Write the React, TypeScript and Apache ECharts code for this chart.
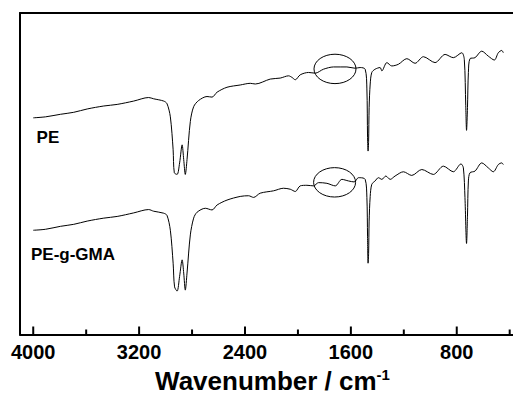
import React, { useEffect, useRef } from "react";
import * as echarts from "echarts";

// Wavenumbers (cm-1) and relative transmittance (arbitrary units)
const peWavenumbers = [
  4000, 3907, 3794, 3694, 3592, 3467, 3366, 3241, 3128, 3090, 3014, 2989, 2964, 2943, 2934, 2913,
  2894, 2875, 2863, 2851, 2838, 2813, 2788, 2750, 2687, 2649, 2611, 2536, 2436, 2360, 2322, 2209,
  2134, 2071, 2045, 2020, 1983, 1920, 1869, 1807, 1731, 1630, 1568, 1530, 1492, 1479, 1474, 1470,
  1466, 1462, 1454, 1442, 1417, 1379, 1366, 1328, 1291, 1241, 1177, 1115, 1052, 964, 888, 826,
  762, 743, 732, 726, 719, 712, 700, 662, 611, 562, 516, 486, 460, 448,
];
const peValues = [
  219.7, 220.7, 223.3, 225.3, 228.7, 231.7, 233.3, 236.7, 240.3, 239, 236.7, 234, 220.7, 187.3, 164, 162.3,
  174, 192.3, 177.3, 162.3, 177.3, 216, 231, 237.3, 241.3, 240.7, 245.7, 250.7, 253, 254.7, 254, 259,
  260, 262.3, 260.7, 258.3, 263.3, 265.7, 265, 269, 271.3, 271.3, 270, 270.7, 269, 249, 200, 186,
  196, 230, 254, 265.7, 269, 270.7, 267.3, 275.7, 272.3, 274, 279.7, 275, 281.7, 275.7, 284, 280.7,
  285.7, 279, 232, 207, 230, 265.7, 279.7, 280.7, 287.3, 282.3, 278.3, 285.7, 288, 285.7,
];

const gmaWavenumbers = [
  4000, 3907, 3794, 3694, 3592, 3467, 3366, 3241, 3128, 3090, 3014, 2989, 2964, 2943, 2932, 2913,
  2894, 2875, 2863, 2851, 2838, 2813, 2788, 2762, 2700, 2649, 2611, 2536, 2436, 2373, 2335, 2285,
  2184, 2109, 2058, 2020, 1983, 1932, 1882, 1844, 1781, 1718, 1668, 1618, 1575, 1543, 1530, 1492,
  1479, 1474, 1470, 1466, 1462, 1454, 1442, 1417, 1392, 1366, 1336, 1303, 1266, 1203, 1140, 1064,
  977, 901, 826, 768, 750, 738, 726, 719, 712, 700, 662, 611, 562, 524, 486, 460, 448,
];
const gmaValues = [
  105.7, 106.7, 109.7, 111.7, 115, 118, 119.7, 123.3, 126.7, 125, 123, 120.7, 105.7, 72.3, 48.3, 44,
  59, 75.7, 62.3, 45, 62.3, 101, 118, 124, 128, 126.3, 131.3, 136.3, 140, 140.7, 139, 143.3,
  145.7, 148.3, 147.3, 145, 150.7, 151.3, 150.7, 154, 153.3, 150.7, 157.3, 155.7, 154.7, 159, 159, 157.3,
  139, 99, 72.3, 82, 115, 140, 152.3, 155.7, 159, 157.3, 160.7, 157.3, 160.7, 165, 161.3, 167.3,
  162.3, 170.7, 165, 173, 169, 139, 92.3, 120, 155.7, 164, 165.7, 174, 169, 165, 172.3, 174, 172.3,
];

const majorTicks = [4000, 3200, 2400, 1600, 800];
const minorTicks = [3600, 2800, 2000, 1200, 400];

// Annotations: sample names and circled regions (wavenumber, value)
const sampleNames = ["PE", "PE-g-GMA"];
const sampleLabelAt = [
  [3975, 199.5],
  [4017, 81],
];
const circledRegions = [
  [1720, 269.3],
  [1723, 154.3],
];

const FONT = "'Liberation Sans', Arial, Helvetica, sans-serif";

export default function App() {
  const ref = useRef<HTMLDivElement>(null);

  useEffect(() => {
    if (!ref.current) return;
    const chart = echarts.init(ref.current, undefined, { renderer: "svg" });

    const pe = peWavenumbers.map((w, i) => [w, peValues[i]]);
    const gma = gmaWavenumbers.map((w, i) => [w, gmaValues[i]]);
    const tickData = [
      ...majorTicks.map((w) => [w, 1]),
      ...minorTicks.map((w) => [w, 0]),
    ];

    const xBase = {
      type: "value" as const,
      min: 375,
      max: 4100,
      inverse: true,
      splitLine: { show: false },
    };

    chart.setOption({
      animation: false,
      backgroundColor: "#fff",
      grid: { left: 20, right: 0, top: 13, bottom: 60 },
      xAxis: [
        {
          ...xBase,
          position: "bottom",
          axisLine: { show: true, onZero: false, lineStyle: { color: "#000", width: 2 } },
          axisTick: { show: false },
          axisLabel: {
            customValues: majorTicks,
            formatter: (v: number) => String(v),
            color: "#000",
            fontFamily: FONT,
            fontWeight: "bold",
            fontSize: 20,
            margin: 7,
          },
          name: "{a|Wavenumber / cm}{b|-1}",
          nameLocation: "middle",
          nameGap: 32,
          nameTextStyle: {
            padding: [0, 0, 0, 12],
            rich: {
              a: { fontFamily: FONT, fontWeight: "bold", fontSize: 26, color: "#000", lineHeight: 29 },
              b: { fontFamily: FONT, fontWeight: "bold", fontSize: 15, color: "#000", verticalAlign: "top", lineHeight: 29 },
            },
          },
        },
        {
          ...xBase,
          position: "top",
          axisLine: { show: true, onZero: false, lineStyle: { color: "#000", width: 2 } },
          axisTick: { show: false },
          axisLabel: { show: false },
        },
      ],
      yAxis: {
        type: "value",
        min: 0,
        max: 326,
        axisLine: { show: true, onZero: false, lineStyle: { color: "#000", width: 2 } },
        axisTick: { show: false },
        axisLabel: { show: false },
        splitLine: { show: false },
      },
      series: [
        {
          name: "PE",
          type: "line",
          data: pe,
          showSymbol: false,
          smooth: 0.3,
          lineStyle: { color: "#000", width: 1 },
          silent: true,
        },
        {
          name: "PE-g-GMA",
          type: "line",
          data: gma,
          showSymbol: false,
          smooth: 0.3,
          lineStyle: { color: "#000", width: 1 },
          silent: true,
        },
        {
          type: "custom",
          silent: true,
          data: tickData,
          renderItem: (_p: any, api: any) => {
            const c = api.coord([api.value(0), 0]);
            const len = api.value(1) === 1 ? 8 : 5;
            return {
              type: "line",
              shape: { x1: c[0], y1: c[1], x2: c[0], y2: c[1] - len },
              style: { stroke: "#000", lineWidth: 2 },
            };
          },
        },
        {
          type: "custom",
          silent: true,
          data: circledRegions,
          renderItem: (_p: any, api: any) => {
            const c = api.coord([api.value(0), api.value(1)]);
            return {
              type: "ellipse",
              shape: { cx: c[0], cy: c[1], rx: 21, ry: 14.7 },
              style: { fill: "none", stroke: "#000", lineWidth: 1 },
            };
          },
        },
        {
          type: "custom",
          silent: true,
          data: sampleLabelAt.map((p, i) => [p[0], p[1], i]),
          renderItem: (_p: any, api: any) => {
            const c = api.coord([api.value(0), api.value(1)]);
            return {
              type: "text",
              x: c[0],
              y: c[1],
              style: {
                text: sampleNames[api.value(2)],
                fill: "#000",
                font: `bold 17px ${FONT}`,
                align: "left",
                verticalAlign: "middle",
              },
            };
          },
        },
      ],
    });

    return () => chart.dispose();
  }, []);

  return <div ref={ref} style={{ width: 513, height: 399, position: "absolute", left: 0, top: 0 }} />;
}
